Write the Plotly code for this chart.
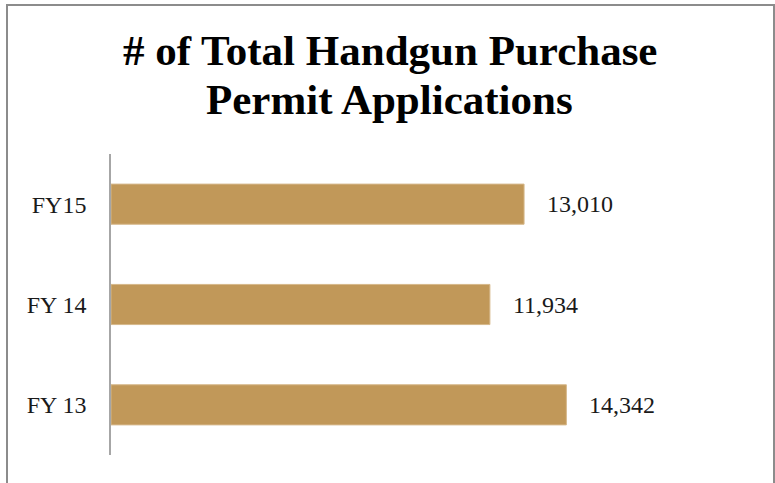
import plotly.graph_objects as go

categories = ["FY 13", "FY 14", "FY15"]
values = [14342, 11934, 13010]
title_lines = ["# of Total Handgun Purchase", "Permit Applications"]

W, H = 775, 483
SERIF = "Liberation Serif, Times New Roman, serif"

fig = go.Figure()
fig.add_trace(go.Bar(
    x=values, y=categories, orientation="h",
    marker=dict(color="#C19859", line=dict(color="#D6B88A", width=1)),
    width=0.4, hoverinfo="skip",
))

annotations = []
for v, c in zip(values, categories):
    annotations.append(dict(
        x=v, y=c, xref="x", yref="y", text=f"{v:,}", showarrow=False,
        xanchor="left", yanchor="middle", xshift=21,
        font=dict(family=SERIF, size=24, color="#1a1a1a"),
    ))
# title lines
title_y = [1 - 51 / H, 1 - 100 / H]
for t, yy in zip(title_lines, title_y):
    annotations.append(dict(
        x=390 / W, y=yy, xref="paper", yref="paper", text=f"<b>{t}</b>",
        showarrow=False, xanchor="center", yanchor="middle",
        font=dict(family=SERIF, size=43, color="#000000"),
    ))

fig.update_layout(
    width=W, height=H,
    margin=dict(l=0, r=0, t=0, b=0),
    paper_bgcolor="white", plot_bgcolor="white",
    showlegend=False,
    annotations=annotations,
    shapes=[dict(type="rect", xref="paper", yref="paper",
                 x0=7 / W, x1=774 / W, y0=-0.05, y1=1 - 5 / H,
                 line=dict(color="#8c8c8c", width=2), fillcolor="rgba(0,0,0,0)",
                 layer="below")],
    xaxis=dict(domain=[111 / W, 746 / W], range=[0, 20000], visible=False,
               fixedrange=True),
    yaxis=dict(domain=[1 - 455 / H, 1 - 154 / H], range=[-0.5, 2.5],
               type="category", showline=True, linecolor="#a6a6a6", linewidth=1.5,
               showgrid=False, ticks="", zeroline=False,
               ticklabelstandoff=18,
               tickfont=dict(family=SERIF, size=24, color="#1a1a1a"),
               fixedrange=True),
)

fig.write_html(
    "out.html",
    config={"displayModeBar": False},
    post_script="document.body.style.margin='0';document.body.style.overflow='hidden';",
)
